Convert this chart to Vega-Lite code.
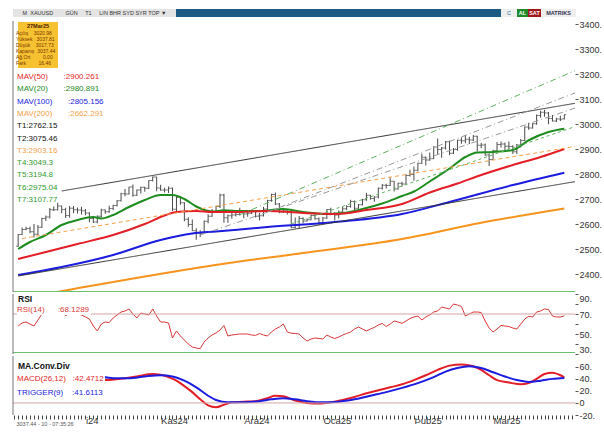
{
"$schema": "https://vega.github.io/schema/vega-lite/v6.json",
"background": "white",
"padding": {"left": 12, "top": 9, "right": 0, "bottom": 0},
"spacing": 2,
"config": {
  "view": {"stroke": null},
  "font": "Liberation Sans",
  "axis": {"labelFont": "Liberation Sans", "titleFont": "Liberation Sans"},
  "legend": {"labelFont": "Liberation Sans", "titleFont": "Liberation Sans"}
},
"resolve": {"scale": {"color": "independent", "shape": "independent"}},
"datasets": {
  "bars": [
{"t":0,"o":2511,"h":2560,"l":2508,"c":2558,"r":58},
{"t":1,"o":2558,"h":2586,"l":2556,"c":2578,"r":61},
{"t":2,"o":2578,"h":2589,"l":2575,"c":2582,"r":62},
{"t":3,"o":2582,"h":2590,"l":2563,"c":2569,"r":60},
{"t":4,"o":2569,"h":2600,"l":2546,"c":2559,"r":58},
{"t":5,"o":2559,"h":2596,"l":2555,"c":2587,"r":64},
{"t":6,"o":2587,"h":2625,"l":2584,"c":2622,"r":70},
{"t":7,"o":2622,"h":2634,"l":2612,"c":2628,"r":71},
{"t":8,"o":2628,"h":2664,"l":2622,"c":2657,"r":76},
{"t":9,"o":2657,"h":2670,"l":2652,"c":2657,"r":76},
{"t":10,"o":2657,"h":2685,"l":2654,"c":2672,"r":78},
{"t":11,"o":2672,"h":2674,"l":2643,"c":2658,"r":74},
{"t":12,"o":2658,"h":2665,"l":2624,"c":2634,"r":68},
{"t":13,"o":2634,"h":2672,"l":2625,"c":2663,"r":72},
{"t":14,"o":2663,"h":2672,"l":2643,"c":2657,"r":70},
{"t":15,"o":2657,"h":2666,"l":2642,"c":2656,"r":70},
{"t":16,"o":2656,"h":2669,"l":2638,"c":2653,"r":69},
{"t":17,"o":2653,"h":2660,"l":2635,"c":2644,"r":67},
{"t":18,"o":2644,"h":2647,"l":2607,"c":2622,"r":65},
{"t":19,"o":2622,"h":2625,"l":2604,"c":2608,"r":58},
{"t":20,"o":2608,"h":2634,"l":2603,"c":2631,"r":53},
{"t":21,"o":2631,"h":2661,"l":2626,"c":2656,"r":60},
{"t":22,"o":2656,"h":2658,"l":2641,"c":2649,"r":62},
{"t":23,"o":2649,"h":2673,"l":2645,"c":2662,"r":61.5},
{"t":24,"o":2662,"h":2677,"l":2655,"c":2674,"r":66},
{"t":25,"o":2674,"h":2696,"l":2670,"c":2693,"r":69},
{"t":26,"o":2693,"h":2725,"l":2690,"c":2721,"r":72},
{"t":27,"o":2721,"h":2740,"l":2711,"c":2720,"r":73},
{"t":28,"o":2720,"h":2749,"l":2718,"c":2748,"r":75},
{"t":29,"o":2748,"h":2758,"l":2709,"c":2715,"r":70},
{"t":30,"o":2715,"h":2738,"l":2712,"c":2736,"r":66},
{"t":31,"o":2736,"h":2749,"l":2722,"c":2747,"r":71},
{"t":32,"o":2747,"h":2749,"l":2729,"c":2743,"r":70},
{"t":33,"o":2743,"h":2775,"l":2740,"c":2774,"r":69},
{"t":34,"o":2774,"h":2790,"l":2770,"c":2788,"r":75},
{"t":35,"o":2788,"h":2789,"l":2731,"c":2744,"r":68},
{"t":36,"o":2744,"h":2757,"l":2733,"c":2736,"r":62},
{"t":37,"o":2736,"h":2745,"l":2726,"c":2736,"r":62},
{"t":38,"o":2736,"h":2750,"l":2724,"c":2743,"r":61},
{"t":39,"o":2743,"h":2746,"l":2652,"c":2659,"r":46},
{"t":40,"o":2659,"h":2711,"l":2643,"c":2706,"r":53},
{"t":41,"o":2706,"h":2709,"l":2677,"c":2685,"r":48},
{"t":42,"o":2685,"h":2687,"l":2611,"c":2619,"r":44},
{"t":43,"o":2619,"h":2627,"l":2589,"c":2598,"r":40},
{"t":44,"o":2598,"h":2618,"l":2572,"c":2573,"r":37},
{"t":45,"o":2573,"h":2583,"l":2537,"c":2565,"r":36},
{"t":46,"o":2565,"h":2575,"l":2548,"c":2563,"r":35.4},
{"t":47,"o":2563,"h":2614,"l":2562,"c":2611,"r":42},
{"t":48,"o":2611,"h":2639,"l":2603,"c":2631,"r":46},
{"t":49,"o":2631,"h":2660,"l":2629,"c":2651,"r":49},
{"t":50,"o":2651,"h":2673,"l":2644,"c":2670,"r":51},
{"t":51,"o":2670,"h":2721,"l":2664,"c":2716,"r":54},
{"t":52,"o":2716,"h":2721,"l":2605,"c":2625,"r":58.5},
{"t":53,"o":2625,"h":2638,"l":2605,"c":2633,"r":48},
{"t":54,"o":2633,"h":2657,"l":2621,"c":2636,"r":49},
{"t":55,"o":2636,"h":2646,"l":2630,"c":2638,"r":49.5},
{"t":56,"o":2638,"h":2665,"l":2634,"c":2650,"r":50},
{"t":57,"o":2650,"h":2652,"l":2623,"c":2640,"r":50},
{"t":58,"o":2640,"h":2654,"l":2629,"c":2643,"r":50},
{"t":59,"o":2643,"h":2657,"l":2640,"c":2650,"r":49},
{"t":60,"o":2650,"h":2655,"l":2626,"c":2631,"r":48.6},
{"t":61,"o":2631,"h":2645,"l":2614,"c":2633,"r":50.5},
{"t":62,"o":2633,"h":2669,"l":2630,"c":2660,"r":49},
{"t":63,"o":2660,"h":2697,"l":2656,"c":2694,"r":48},
{"t":64,"o":2694,"h":2721,"l":2689,"c":2718,"r":52},
{"t":65,"o":2718,"h":2726,"l":2676,"c":2680,"r":55},
{"t":66,"o":2680,"h":2684,"l":2643,"c":2648,"r":57},
{"t":67,"o":2648,"h":2664,"l":2644,"c":2652,"r":60},
{"t":68,"o":2652,"h":2655,"l":2638,"c":2646,"r":52},
{"t":69,"o":2646,"h":2654,"l":2583,"c":2586,"r":50.8},
{"t":70,"o":2586,"h":2626,"l":2583,"c":2595,"r":50.5},
{"t":71,"o":2595,"h":2632,"l":2584,"c":2622,"r":50},
{"t":72,"o":2622,"h":2627,"l":2603,"c":2612,"r":46},
{"t":73,"o":2612,"h":2622,"l":2610,"c":2617,"r":43},
{"t":74,"o":2617,"h":2638,"l":2615,"c":2634,"r":45},
{"t":75,"o":2634,"h":2639,"l":2617,"c":2621,"r":46},
{"t":76,"o":2621,"h":2626,"l":2597,"c":2606,"r":45.5},
{"t":77,"o":2606,"h":2628,"l":2598,"c":2624,"r":45},
{"t":78,"o":2624,"h":2660,"l":2620,"c":2658,"r":49},
{"t":79,"o":2658,"h":2665,"l":2635,"c":2640,"r":47},
{"t":80,"o":2640,"h":2647,"l":2614,"c":2636,"r":45.5},
{"t":81,"o":2636,"h":2654,"l":2622,"c":2648,"r":47},
{"t":82,"o":2648,"h":2670,"l":2643,"c":2661,"r":49},
{"t":83,"o":2661,"h":2675,"l":2656,"c":2670,"r":50.5},
{"t":84,"o":2670,"h":2697,"l":2665,"c":2690,"r":52},
{"t":85,"o":2690,"h":2694,"l":2656,"c":2663,"r":55},
{"t":86,"o":2663,"h":2680,"l":2661,"c":2677,"r":57},
{"t":87,"o":2677,"h":2701,"l":2674,"c":2697,"r":55},
{"t":88,"o":2697,"h":2725,"l":2693,"c":2715,"r":53},
{"t":89,"o":2715,"h":2717,"l":2697,"c":2702,"r":55},
{"t":90,"o":2702,"h":2711,"l":2689,"c":2708,"r":56.6},
{"t":91,"o":2708,"h":2746,"l":2702,"c":2743,"r":59},
{"t":92,"o":2743,"h":2760,"l":2738,"c":2755,"r":60.6},
{"t":93,"o":2755,"h":2761,"l":2742,"c":2754,"r":57.5},
{"t":94,"o":2754,"h":2785,"l":2752,"c":2771,"r":60},
{"t":95,"o":2771,"h":2772,"l":2730,"c":2740,"r":63},
{"t":96,"o":2740,"h":2765,"l":2738,"c":2763,"r":62},
{"t":97,"o":2763,"h":2769,"l":2750,"c":2760,"r":60.6},
{"t":98,"o":2760,"h":2799,"l":2757,"c":2794,"r":63},
{"t":99,"o":2794,"h":2817,"l":2790,"c":2798,"r":65.5},
{"t":100,"o":2798,"h":2830,"l":2773,"c":2815,"r":67},
{"t":101,"o":2815,"h":2845,"l":2810,"c":2843,"r":68},
{"t":102,"o":2843,"h":2882,"l":2840,"c":2867,"r":64},
{"t":103,"o":2867,"h":2870,"l":2834,"c":2856,"r":67},
{"t":104,"o":2856,"h":2886,"l":2853,"c":2861,"r":69},
{"t":105,"o":2861,"h":2911,"l":2860,"c":2908,"r":72},
{"t":106,"o":2908,"h":2942,"l":2880,"c":2898,"r":73},
{"t":107,"o":2898,"h":2908,"l":2865,"c":2904,"r":77},
{"t":108,"o":2904,"h":2932,"l":2898,"c":2929,"r":76},
{"t":109,"o":2929,"h":2934,"l":2875,"c":2883,"r":75},
{"t":110,"o":2883,"h":2904,"l":2880,"c":2898,"r":80},
{"t":111,"o":2898,"h":2937,"l":2893,"c":2935,"r":79},
{"t":112,"o":2935,"h":2947,"l":2921,"c":2933,"r":77.5},
{"t":113,"o":2933,"h":2955,"l":2923,"c":2939,"r":68},
{"t":114,"o":2939,"h":2949,"l":2920,"c":2936,"r":70},
{"t":115,"o":2936,"h":2956,"l":2932,"c":2951,"r":72},
{"t":116,"o":2951,"h":2953,"l":2890,"c":2915,"r":72},
{"t":117,"o":2915,"h":2925,"l":2903,"c":2916,"r":71.5},
{"t":118,"o":2916,"h":2922,"l":2873,"c":2876,"r":63},
{"t":119,"o":2876,"h":2882,"l":2832,"c":2858,"r":56},
{"t":120,"o":2858,"h":2897,"l":2857,"c":2893,"r":52},
{"t":121,"o":2893,"h":2928,"l":2888,"c":2918,"r":55},
{"t":122,"o":2918,"h":2930,"l":2906,"c":2920,"r":58.5},
{"t":123,"o":2920,"h":2926,"l":2894,"c":2911,"r":58},
{"t":124,"o":2911,"h":2930,"l":2899,"c":2910,"r":57.5},
{"t":125,"o":2910,"h":2915,"l":2880,"c":2889,"r":56},
{"t":126,"o":2889,"h":2920,"l":2880,"c":2916,"r":55},
{"t":127,"o":2916,"h":2940,"l":2906,"c":2934,"r":60},
{"t":128,"o":2934,"h":2990,"l":2932,"c":2988,"r":65},
{"t":129,"o":2988,"h":3005,"l":2977,"c":2984,"r":67.7},
{"t":130,"o":2984,"h":3004,"l":2982,"c":3001,"r":67},
{"t":131,"o":3001,"h":3038,"l":2997,"c":3034,"r":72},
{"t":132,"o":3034,"h":3053,"l":3025,"c":3047,"r":73},
{"t":133,"o":3047,"h":3057,"l":3029,"c":3044,"r":75},
{"t":134,"o":3044,"h":3048,"l":2999,"c":3022,"r":74.5},
{"t":135,"o":3022,"h":3036,"l":3010,"c":3012,"r":68},
{"t":136,"o":3012,"h":3025,"l":3008,"c":3020,"r":67},
{"t":137,"o":3020,"h":3033,"l":3012,"c":3019,"r":67},
{"t":138,"o":3020.98,"h":3037.81,"l":3017.73,"c":3037.44,"r":68.13}
  ],
  "ma": [
{"s":"MAV(20)","t":0,"v":2500},{"s":"MAV(20)","t":3,"v":2528},{"s":"MAV(20)","t":7,"v":2556},{"s":"MAV(20)","t":11,"v":2596},{"s":"MAV(20)","t":15,"v":2616},{"s":"MAV(20)","t":19,"v":2628},{"s":"MAV(20)","t":21,"v":2622},{"s":"MAV(20)","t":24,"v":2636},{"s":"MAV(20)","t":28,"v":2668},{"s":"MAV(20)","t":32,"v":2696},{"s":"MAV(20)","t":36,"v":2716},{"s":"MAV(20)","t":39,"v":2716},{"s":"MAV(20)","t":42,"v":2700},{"s":"MAV(20)","t":45,"v":2670},{"s":"MAV(20)","t":49,"v":2650},{"s":"MAV(20)","t":52,"v":2655},{"s":"MAV(20)","t":56,"v":2652},{"s":"MAV(20)","t":61,"v":2652},{"s":"MAV(20)","t":67,"v":2660},{"s":"MAV(20)","t":72,"v":2648},{"s":"MAV(20)","t":77,"v":2640},{"s":"MAV(20)","t":82,"v":2644},{"s":"MAV(20)","t":87,"v":2660},{"s":"MAV(20)","t":92,"v":2682},{"s":"MAV(20)","t":97,"v":2712},{"s":"MAV(20)","t":100,"v":2730},{"s":"MAV(20)","t":104,"v":2770},{"s":"MAV(20)","t":109,"v":2822},{"s":"MAV(20)","t":113,"v":2868},{"s":"MAV(20)","t":116,"v":2886},{"s":"MAV(20)","t":120,"v":2888},{"s":"MAV(20)","t":125,"v":2896},{"s":"MAV(20)","t":129,"v":2935},{"s":"MAV(20)","t":134,"v":2968},{"s":"MAV(20)","t":138,"v":2980.89},
{"s":"MAV(50)","t":0,"v":2460},{"s":"MAV(50)","t":7,"v":2488},{"s":"MAV(50)","t":15,"v":2520},{"s":"MAV(50)","t":24,"v":2556},{"s":"MAV(50)","t":32,"v":2600},{"s":"MAV(50)","t":37,"v":2634},{"s":"MAV(50)","t":40,"v":2648},{"s":"MAV(50)","t":45,"v":2652},{"s":"MAV(50)","t":49,"v":2648},{"s":"MAV(50)","t":55,"v":2648},{"s":"MAV(50)","t":63,"v":2652},{"s":"MAV(50)","t":72,"v":2644},{"s":"MAV(50)","t":80,"v":2640},{"s":"MAV(50)","t":88,"v":2656},{"s":"MAV(50)","t":97,"v":2680},{"s":"MAV(50)","t":104,"v":2726},{"s":"MAV(50)","t":111,"v":2762},{"s":"MAV(50)","t":117,"v":2796},{"s":"MAV(50)","t":125,"v":2836},{"s":"MAV(50)","t":132,"v":2868},{"s":"MAV(50)","t":138,"v":2900.26},
{"s":"MAV(100)","t":0,"v":2396},{"s":"MAV(100)","t":11,"v":2428},{"s":"MAV(100)","t":24,"v":2476},{"s":"MAV(100)","t":36,"v":2536},{"s":"MAV(100)","t":44,"v":2562},{"s":"MAV(100)","t":50,"v":2570},{"s":"MAV(100)","t":63,"v":2588},{"s":"MAV(100)","t":80,"v":2608},{"s":"MAV(100)","t":97,"v":2640},{"s":"MAV(100)","t":109,"v":2688},{"s":"MAV(100)","t":125,"v":2756},{"s":"MAV(100)","t":138,"v":2805.16},
{"s":"MAV(200)","t":0,"v":2300},{"s":"MAV(200)","t":14,"v":2340},{"s":"MAV(200)","t":32,"v":2390},{"s":"MAV(200)","t":49,"v":2434},{"s":"MAV(200)","t":72,"v":2484},{"s":"MAV(200)","t":97,"v":2540},{"s":"MAV(200)","t":117,"v":2605},{"s":"MAV(200)","t":138,"v":2662.29}
  ],
  "tl": [
{"s":"T1","t":0,"v":2392},{"s":"T1","t":140.7,"v":2769.4},
{"s":"T2","t":11,"v":2732},{"s":"T2","t":140.7,"v":3082.8},
{"s":"T3","t":1,"v":2542},{"s":"T3","t":140.7,"v":2910.3},
{"s":"T4","t":46,"v":2556},{"s":"T4","t":140.7,"v":3063.8},
{"s":"T5","t":56,"v":2637},{"s":"T5","t":140.7,"v":3213.2},
{"s":"T6","t":69,"v":2600},{"s":"T6","t":140.7,"v":2989.7},
{"s":"T7","t":63,"v":2648},{"s":"T7","t":140.7,"v":3124.3}
  ],
  "macd": [
{"s":"MACD(26,12)","t":0,"v":48},{"s":"MACD(26,12)","t":5,"v":52},{"s":"MACD(26,12)","t":10,"v":53},{"s":"MACD(26,12)","t":14,"v":51},{"s":"MACD(26,12)","t":18,"v":44},{"s":"MACD(26,12)","t":22,"v":38},{"s":"MACD(26,12)","t":26,"v":40},{"s":"MACD(26,12)","t":30,"v":44},{"s":"MACD(26,12)","t":34,"v":48},{"s":"MACD(26,12)","t":36,"v":47},{"s":"MACD(26,12)","t":38,"v":43},{"s":"MACD(26,12)","t":40,"v":37},{"s":"MACD(26,12)","t":42,"v":28},{"s":"MACD(26,12)","t":44,"v":18},{"s":"MACD(26,12)","t":46,"v":6},{"s":"MACD(26,12)","t":48,"v":-4},{"s":"MACD(26,12)","t":50,"v":-7},{"s":"MACD(26,12)","t":52,"v":-3},{"s":"MACD(26,12)","t":54,"v":1},{"s":"MACD(26,12)","t":57,"v":2},{"s":"MACD(26,12)","t":60,"v":3},{"s":"MACD(26,12)","t":63,"v":8},{"s":"MACD(26,12)","t":65,"v":12},{"s":"MACD(26,12)","t":67,"v":11},{"s":"MACD(26,12)","t":70,"v":4},{"s":"MACD(26,12)","t":73,"v":0},{"s":"MACD(26,12)","t":76,"v":-1},{"s":"MACD(26,12)","t":79,"v":1},{"s":"MACD(26,12)","t":82,"v":5},{"s":"MACD(26,12)","t":85,"v":10},{"s":"MACD(26,12)","t":88,"v":16},{"s":"MACD(26,12)","t":91,"v":21},{"s":"MACD(26,12)","t":94,"v":26},{"s":"MACD(26,12)","t":97,"v":31},{"s":"MACD(26,12)","t":100,"v":38},{"s":"MACD(26,12)","t":103,"v":46},{"s":"MACD(26,12)","t":106,"v":55},{"s":"MACD(26,12)","t":109,"v":62},{"s":"MACD(26,12)","t":112,"v":64},{"s":"MACD(26,12)","t":115,"v":61},{"s":"MACD(26,12)","t":117,"v":55},{"s":"MACD(26,12)","t":119,"v":46},{"s":"MACD(26,12)","t":121,"v":38},{"s":"MACD(26,12)","t":124,"v":34},{"s":"MACD(26,12)","t":127,"v":31},{"s":"MACD(26,12)","t":129,"v":33},{"s":"MACD(26,12)","t":131,"v":40},{"s":"MACD(26,12)","t":133,"v":48},{"s":"MACD(26,12)","t":135,"v":50},{"s":"MACD(26,12)","t":137,"v":46},{"s":"MACD(26,12)","t":138,"v":42.47},
{"s":"TRIGGER(9)","t":0,"v":45},{"s":"TRIGGER(9)","t":5,"v":48},{"s":"TRIGGER(9)","t":10,"v":50},{"s":"TRIGGER(9)","t":15,"v":50},{"s":"TRIGGER(9)","t":20,"v":45},{"s":"TRIGGER(9)","t":24,"v":41},{"s":"TRIGGER(9)","t":28,"v":41},{"s":"TRIGGER(9)","t":32,"v":44},{"s":"TRIGGER(9)","t":36,"v":46},{"s":"TRIGGER(9)","t":39,"v":44},{"s":"TRIGGER(9)","t":42,"v":37},{"s":"TRIGGER(9)","t":45,"v":26},{"s":"TRIGGER(9)","t":48,"v":12},{"s":"TRIGGER(9)","t":50,"v":5},{"s":"TRIGGER(9)","t":53,"v":1},{"s":"TRIGGER(9)","t":57,"v":1},{"s":"TRIGGER(9)","t":61,"v":3},{"s":"TRIGGER(9)","t":64,"v":6},{"s":"TRIGGER(9)","t":67,"v":8},{"s":"TRIGGER(9)","t":70,"v":6},{"s":"TRIGGER(9)","t":73,"v":3},{"s":"TRIGGER(9)","t":77,"v":1},{"s":"TRIGGER(9)","t":81,"v":2},{"s":"TRIGGER(9)","t":85,"v":6},{"s":"TRIGGER(9)","t":89,"v":12},{"s":"TRIGGER(9)","t":93,"v":18},{"s":"TRIGGER(9)","t":97,"v":25},{"s":"TRIGGER(9)","t":101,"v":33},{"s":"TRIGGER(9)","t":105,"v":43},{"s":"TRIGGER(9)","t":108,"v":52},{"s":"TRIGGER(9)","t":111,"v":58},{"s":"TRIGGER(9)","t":114,"v":61},{"s":"TRIGGER(9)","t":117,"v":58},{"s":"TRIGGER(9)","t":120,"v":51},{"s":"TRIGGER(9)","t":123,"v":44},{"s":"TRIGGER(9)","t":126,"v":38},{"s":"TRIGGER(9)","t":129,"v":35},{"s":"TRIGGER(9)","t":132,"v":37},{"s":"TRIGGER(9)","t":135,"v":40},{"s":"TRIGGER(9)","t":138,"v":41.61}
  ],
  "info": [
{"k":"Açılış\u00a0\u00a0\u00a0\u00a03020.98"},
{"k":"Yüksek\u00a0\u00a0\u00a03037.81"},
{"k":"Düşük\u00a0\u00a0\u00a0\u00a03017.73"},
{"k":"Kapanış\u00a0\u00a03037.44"},
{"k":"Ağ.Ort\u00a0\u00a0\u00a0\u00a0\u00a0\u00a0\u00a0\u00a0\u00a00.00"},
{"k":"Fark\u00a0\u00a0\u00a0\u00a0\u00a0\u00a0\u00a0\u00a0\u00a016.46"}
  ]
},
"vconcat": [
  {
    "hconcat": [
      {"width": 163, "height": 8, "view": {"fill": "#e4e4e4", "stroke": null}, "data": {"values": [{"txt": "M\u00a0\u00a0XAUUSD\u00a0\u00a0\u00a0\u00a0\u00a0\u00a0\u00a0\u00a0GÜN\u00a0\u00a0\u00a0\u00a0\u00a0T1\u00a0\u00a0\u00a0\u00a0\u00a0LIN\u00a0BHR\u00a0SYD\u00a0SYR\u00a0TOP\u00a0▼"}]}, "mark": {"type": "text", "fontSize": 5.5, "color": "#333"}, "encoding": {"text": {"field": "txt", "type": "nominal"}}},
      {"width": 325, "height": 8, "view": {"fill": "#1c5a84", "stroke": null}, "data": {"values": [{"txt": " "}]}, "mark": {"type": "text", "fontSize": 5}, "encoding": {"text": {"field": "txt", "type": "nominal"}}},
      {"width": 16, "height": 8, "view": {"fill": "#eeeeee", "stroke": null}, "data": {"values": [{"txt": "C"}]}, "mark": {"type": "text", "fontSize": 5.5, "color": "#2a6a9a"}, "encoding": {"text": {"field": "txt", "type": "nominal"}}},
      {"width": 11, "height": 8, "view": {"fill": "#1e8a2a", "stroke": null}, "data": {"values": [{"txt": "AL"}]}, "mark": {"type": "text", "fontSize": 5.5, "color": "white", "fontWeight": "bold"}, "encoding": {"text": {"field": "txt", "type": "nominal"}}},
      {"width": 13, "height": 8, "view": {"fill": "#a0181c", "stroke": null}, "data": {"values": [{"txt": "SAT"}]}, "mark": {"type": "text", "fontSize": 5.5, "color": "white", "fontWeight": "bold"}, "encoding": {"text": {"field": "txt", "type": "nominal"}}},
      {"width": 35, "height": 8, "view": {"fill": "#eeeeee", "stroke": null}, "data": {"values": [{"txt": "MATRIKS"}]}, "mark": {"type": "text", "fontSize": 5.5, "color": "#335", "fontWeight": "bold"}, "encoding": {"text": {"field": "txt", "type": "nominal"}}}
    ],
    "spacing": 0
  },
  {
  "spacing": 2,
  "bounds": "flush",
  "resolve": {"scale": {"color": "independent", "shape": "independent"}, "legend": {"color": "independent", "shape": "independent"}},
  "vconcat": [
  {
    "width": 562,
    "height": 271,
    "layer": [
      {"data": {"name": "bars"}, "mark": {"type": "rule", "color": "#4a4a4a", "strokeWidth": 1},
       "encoding": {
         "x": {"field": "t", "type": "quantitative", "scale": {"domain": [-1.3, 140.7], "nice": false, "zero": false}, "axis": null},
         "y": {"field": "l", "type": "quantitative", "scale": {"domain": [2328, 3412], "nice": false, "zero": false}, "axis": {"orient": "right", "title": null, "values": [2400,2500,2600,2700,2800,2900,3000,3100,3200,3300,3400], "labelExpr": "datum.value + '.'", "grid": false, "domain": false, "tickSize": 3, "tickColor": "#555", "labelFontSize": 9, "labelColor": "#333", "labelPadding": 1}},
         "y2": {"field": "h"}
       }},
      {"data": {"name": "bars"}, "mark": {"type": "tick", "orient": "horizontal", "size": 2, "thickness": 1, "xOffset": -1, "color": "#4a4a4a"},
       "encoding": {
         "x": {"field": "t", "type": "quantitative", "scale": {"domain": [-1.3, 140.7], "nice": false, "zero": false}, "axis": null},
         "y": {"field": "o", "type": "quantitative", "scale": {"domain": [2328, 3412], "nice": false, "zero": false}, "axis": {"orient": "right", "title": null, "values": [2400,2500,2600,2700,2800,2900,3000,3100,3200,3300,3400], "labelExpr": "datum.value + '.'", "grid": false, "domain": false, "tickSize": 3, "tickColor": "#555", "labelFontSize": 9, "labelColor": "#333", "labelPadding": 1}}
       }},
      {"data": {"name": "bars"}, "mark": {"type": "tick", "orient": "horizontal", "size": 2, "thickness": 1, "xOffset": 1, "color": "#4a4a4a"},
       "encoding": {
         "x": {"field": "t", "type": "quantitative", "scale": {"domain": [-1.3, 140.7], "nice": false, "zero": false}, "axis": null},
         "y": {"field": "c", "type": "quantitative", "scale": {"domain": [2328, 3412], "nice": false, "zero": false}, "axis": {"orient": "right", "title": null, "values": [2400,2500,2600,2700,2800,2900,3000,3100,3200,3300,3400], "labelExpr": "datum.value + '.'", "grid": false, "domain": false, "tickSize": 3, "tickColor": "#555", "labelFontSize": 9, "labelColor": "#333", "labelPadding": 1}}
       }},
      {"data": {"name": "ma"}, "mark": {"type": "line", "strokeWidth": 2, "interpolate": "monotone", "clip": true},
       "encoding": {
         "x": {"field": "t", "type": "quantitative", "scale": {"domain": [-1.3, 140.7], "nice": false, "zero": false}, "axis": null},
         "y": {"field": "v", "type": "quantitative", "scale": {"domain": [2328, 3412], "nice": false, "zero": false}, "axis": {"orient": "right", "title": null, "values": [2400,2500,2600,2700,2800,2900,3000,3100,3200,3300,3400], "labelExpr": "datum.value + '.'", "grid": false, "domain": false, "tickSize": 3, "tickColor": "#555", "labelFontSize": 9, "labelColor": "#333", "labelPadding": 1}},
         "color": {"field": "s", "type": "nominal",
           "scale": {"domain": ["MAV(50)","MAV(20)","MAV(100)","MAV(200)","T1","T2","T3","T4","T5","T6","T7"], "range": ["#e41e26","#1e8c1e","#1c1ce0","#f7941d","#333333","#333333","#f5a04a","#999999","#5fb35f","#5fb35f","#999999"]},
           "legend": {"orient": "none", "legendX": 5, "legendY": 52, "title": null, "symbolSize": 0, "symbolStrokeWidth": 0, "symbolOpacity": 0, "labelOffset": -9, "labelFontSize": 8, "rowPadding": 4.3, "labelLimit": 200,
             "labelColor": {"expr": "datum.value == 'MAV(50)' ? '#e41e26' : datum.value == 'MAV(20)' ? '#1e8c1e' : datum.value == 'MAV(100)' ? '#1c1ce0' : (datum.value == 'MAV(200)' || datum.value == 'T3') ? '#f5a04a' : (datum.value == 'T1' || datum.value == 'T2') ? '#111111' : '#2f9a2f'"},
             "labelExpr": "datum.label == 'MAV(50)' ? 'MAV(50)\u00a0\u00a0\u00a0\u00a0\u00a0\u00a0\u00a0:2900.261' : datum.label == 'MAV(20)' ? 'MAV(20)\u00a0\u00a0\u00a0\u00a0\u00a0\u00a0\u00a0:2980.891' : datum.label == 'MAV(100)' ? 'MAV(100)\u00a0\u00a0\u00a0\u00a0\u00a0\u00a0\u00a0:2805.156' : datum.label == 'MAV(200)' ? 'MAV(200)\u00a0\u00a0\u00a0\u00a0\u00a0\u00a0\u00a0:2662.291' : datum.label == 'T1' ? 'T1:2762.15' : datum.label == 'T2' ? 'T2:3075.46' : datum.label == 'T3' ? 'T3:2903.16' : datum.label == 'T4' ? 'T4:3049.3' : datum.label == 'T5' ? 'T5:3194.8' : datum.label == 'T6' ? 'T6:2975.04' : 'T7:3107.77'"
           }
         }
       }},
      {"data": {"name": "tl"}, "mark": {"type": "line", "strokeWidth": 1, "clip": true},
       "encoding": {
         "x": {"field": "t", "type": "quantitative", "scale": {"domain": [-1.3, 140.7], "nice": false, "zero": false}, "axis": null},
         "y": {"field": "v", "type": "quantitative", "scale": {"domain": [2328, 3412], "nice": false, "zero": false}, "axis": {"orient": "right", "title": null, "values": [2400,2500,2600,2700,2800,2900,3000,3100,3200,3300,3400], "labelExpr": "datum.value + '.'", "grid": false, "domain": false, "tickSize": 3, "tickColor": "#555", "labelFontSize": 9, "labelColor": "#333", "labelPadding": 1}},
         "color": {"field": "s", "type": "nominal",
           "scale": {"domain": ["MAV(50)","MAV(20)","MAV(100)","MAV(200)","T1","T2","T3","T4","T5","T6","T7"], "range": ["#e41e26","#1e8c1e","#1c1ce0","#f7941d","#333333","#333333","#f5a04a","#999999","#5fb35f","#5fb35f","#999999"]}},
         "strokeDash": {"field": "s", "type": "nominal", "scale": {"domain": ["T1","T2","T3","T4","T5","T6","T7"], "range": [[1,0],[1,0],[4,3],[6,3,1,3],[6,3,1,3],[3,3],[6,3,1,3]]}, "legend": null}
       }},
      {"data": {"values": [{}]}, "mark": {"type": "rule", "color": "#6cc06c", "strokeWidth": 1}, "encoding": {"y": {"datum": 2330, "type": "quantitative", "scale": {"domain": [2328, 3412], "nice": false, "zero": false}, "axis": {"orient": "right", "title": null, "values": [2400,2500,2600,2700,2800,2900,3000,3100,3200,3300,3400], "labelExpr": "datum.value + '.'", "grid": false, "domain": false, "tickSize": 3, "tickColor": "#555", "labelFontSize": 9, "labelColor": "#333", "labelPadding": 1}}}},
      {"data": {"values": [{}]}, "mark": {"type": "rule", "color": "#777777", "strokeWidth": 1}, "encoding": {"x": {"datum": -1.3, "type": "quantitative", "scale": {"domain": [-1.3, 140.7], "nice": false, "zero": false}, "axis": null}}},
      {"data": {"name": "info"}, "mark": {"type": "point", "opacity": 0},
       "encoding": {
         "shape": {"field": "k", "type": "nominal", "scale": {"domain": ["Açılış\u00a0\u00a0\u00a0\u00a03020.98","Yüksek\u00a0\u00a0\u00a03037.81","Düşük\u00a0\u00a0\u00a0\u00a03017.73","Kapanış\u00a0\u00a03037.44","Ağ.Ort\u00a0\u00a0\u00a0\u00a0\u00a0\u00a0\u00a0\u00a0\u00a00.00","Fark\u00a0\u00a0\u00a0\u00a0\u00a0\u00a0\u00a0\u00a0\u00a016.46"]},
           "legend": {"orient": "none", "legendX": 5, "legendY": 1, "title": "27Mar25", "titleFontSize": 5.5, "titleFontWeight": "bold", "titleColor": "#4a2000", "titleAnchor": "middle", "titlePadding": 1, "fillColor": "#f7c232", "padding": 2, "symbolSize": 0, "symbolStrokeWidth": 0, "symbolOpacity": 0, "labelOffset": -9, "labelFontSize": 5, "labelColor": "#7a3500", "rowPadding": 0}
         }
       }}
    ]
  },
  {
    "width": 562,
    "height": 60,
    "layer": [
      {"data": {"name": "bars"}, "transform": [{"fold": ["r"], "as": ["s", "v"]}], "mark": {"type": "line", "strokeWidth": 1},
       "encoding": {
         "x": {"field": "t", "type": "quantitative", "scale": {"domain": [-1.3, 140.7], "nice": false, "zero": false}, "axis": null},
         "y": {"field": "v", "type": "quantitative", "scale": {"domain": [30, 90], "nice": false, "zero": false}, "axis": {"orient": "right", "title": null, "values": [30,40,50,60,70,80,90], "labelExpr": "datum.value + '.'", "labelFlush": true, "grid": false, "domain": false, "tickSize": 3, "tickColor": "#555", "labelFontSize": 9, "labelColor": "#333", "labelPadding": 1}},
         "color": {"field": "s", "type": "nominal", "scale": {"domain": ["r"], "range": ["#d83838"]},
           "legend": {"orient": "none", "legendX": 4, "legendY": 0, "title": "RSI", "titleFontSize": 8.5, "titleFontWeight": "bold", "titleColor": "#111", "titlePadding": 2, "fillColor": "white", "padding": 1, "symbolSize": 0, "symbolStrokeWidth": 0, "symbolOpacity": 0, "labelOffset": -9, "labelFontSize": 8, "labelColor": "#d83838",
             "labelExpr": "'RSI(14)\u00a0\u00a0\u00a0\u00a0\u00a0\u00a0:68.1289'"}
         }
       }},
      {"data": {"values": [{}]}, "mark": {"type": "rule", "color": "#d4a4a4", "strokeWidth": 1}, "encoding": {"y": {"datum": 70, "type": "quantitative", "scale": {"domain": [30, 90], "nice": false, "zero": false}, "axis": {"orient": "right", "title": null, "values": [30,40,50,60,70,80,90], "labelExpr": "datum.value + '.'", "labelFlush": true, "grid": false, "domain": false, "tickSize": 3, "tickColor": "#555", "labelFontSize": 9, "labelColor": "#333", "labelPadding": 1}}}},
      {"data": {"values": [{}]}, "mark": {"type": "rule", "color": "#6cc06c", "strokeWidth": 1}, "encoding": {"y": {"datum": 31.5, "type": "quantitative", "scale": {"domain": [30, 90], "nice": false, "zero": false}, "axis": {"orient": "right", "title": null, "values": [30,40,50,60,70,80,90], "labelExpr": "datum.value + '.'", "labelFlush": true, "grid": false, "domain": false, "tickSize": 3, "tickColor": "#555", "labelFontSize": 9, "labelColor": "#333", "labelPadding": 1}}}},
      {"data": {"values": [{}]}, "mark": {"type": "rule", "color": "#777777", "strokeWidth": 1}, "encoding": {"x": {"datum": -1.3, "type": "quantitative", "scale": {"domain": [-1.3, 140.7], "nice": false, "zero": false}, "axis": null}}}
    ]
  },
  {
    "width": 562,
    "height": 59,
    "layer": [
      {"data": {"name": "macd"}, "mark": {"type": "line", "strokeWidth": 2, "interpolate": "monotone"},
       "encoding": {
         "x": {"field": "t", "type": "quantitative", "scale": {"domain": [-1.3, 140.7], "nice": false, "zero": false},
           "axis": {"orient": "bottom", "tickCount": 140, "labelOverlap": false, "labelAlign": "left", "labelFontSize": 9.5, "labelColor": "#333", "labelPadding": -4, "labelFlush": false, "tickSize": 4, "tickColor": "#444", "domain": false, "grid": false,
             "labelExpr": "datum.value == 17 ? 'i24' : datum.value == 36 ? 'Kas24' : datum.value == 57 ? 'Ara24' : datum.value == 77 ? 'Oca25' : datum.value == 100 ? 'Þub25' : datum.value == 120 ? 'Mar25' : ''",
             "title": "3037.44 - 10 - 07:35:26", "titleFontSize": 5.5, "titleFontWeight": "normal", "titleColor": "#555", "titleAnchor": "start", "titleAlign": "left", "titleX": 3, "titleY": 6, "titleBaseline": "top"}},
         "y": {"field": "v", "type": "quantitative", "scale": {"domain": [-20, 78], "nice": false, "zero": false}, "axis": {"orient": "right", "title": null, "values": [-20,0,20,40,60], "labelExpr": "datum.value == 0 ? '0' : datum.value + '.'", "grid": false, "domain": false, "tickSize": 3, "tickColor": "#555", "labelFontSize": 9, "labelColor": "#333", "labelPadding": 1}},
         "color": {"field": "s", "type": "nominal", "scale": {"domain": ["MACD(26,12)", "TRIGGER(9)"], "range": ["#e41e26", "#1c1ce0"]},
           "legend": {"orient": "none", "legendX": 4, "legendY": 5, "title": "MA.Conv.Div", "titleFontSize": 8.5, "titleFontWeight": "bold", "titleColor": "#111", "titlePadding": 4, "fillColor": "white", "padding": 1, "symbolSize": 0, "symbolStrokeWidth": 0, "symbolOpacity": 0, "labelOffset": -9, "labelFontSize": 8, "rowPadding": 6,
             "labelColor": {"expr": "datum.value == 'MACD(26,12)' ? '#e41e26' : '#1c1ce0'"},
             "labelExpr": "datum.label == 'MACD(26,12)' ? 'MACD(26,12)\u00a0\u00a0\u00a0:42.4712' : 'TRIGGER(9)\u00a0\u00a0\u00a0\u00a0:41.6113'"
           }
         }
       }},
      {"data": {"values": [{}]}, "mark": {"type": "rule", "color": "#d4a4a4", "strokeWidth": 1}, "encoding": {"y": {"datum": 0, "type": "quantitative", "scale": {"domain": [-20, 78], "nice": false, "zero": false}, "axis": {"orient": "right", "title": null, "values": [-20,0,20,40,60], "labelExpr": "datum.value == 0 ? '0' : datum.value + '.'", "grid": false, "domain": false, "tickSize": 3, "tickColor": "#555", "labelFontSize": 9, "labelColor": "#333", "labelPadding": 1}}}},
      {"data": {"values": [{}]}, "mark": {"type": "rule", "color": "#777777", "strokeWidth": 1}, "encoding": {"x": {"datum": -1.3, "type": "quantitative", "scale": {"domain": [-1.3, 140.7], "nice": false, "zero": false},
           "axis": {"orient": "bottom", "tickCount": 140, "labelOverlap": false, "labelAlign": "left", "labelFontSize": 9.5, "labelColor": "#333", "labelPadding": -4, "labelFlush": false, "tickSize": 4, "tickColor": "#444", "domain": false, "grid": false,
             "labelExpr": "datum.value == 17 ? 'i24' : datum.value == 36 ? 'Kas24' : datum.value == 57 ? 'Ara24' : datum.value == 77 ? 'Oca25' : datum.value == 100 ? 'Þub25' : datum.value == 120 ? 'Mar25' : ''",
             "title": "3037.44 - 10 - 07:35:26", "titleFontSize": 5.5, "titleFontWeight": "normal", "titleColor": "#555", "titleAnchor": "start", "titleAlign": "left", "titleX": 3, "titleY": 6, "titleBaseline": "top"}}}}
    ]
  }
  ]
  }
]
}
